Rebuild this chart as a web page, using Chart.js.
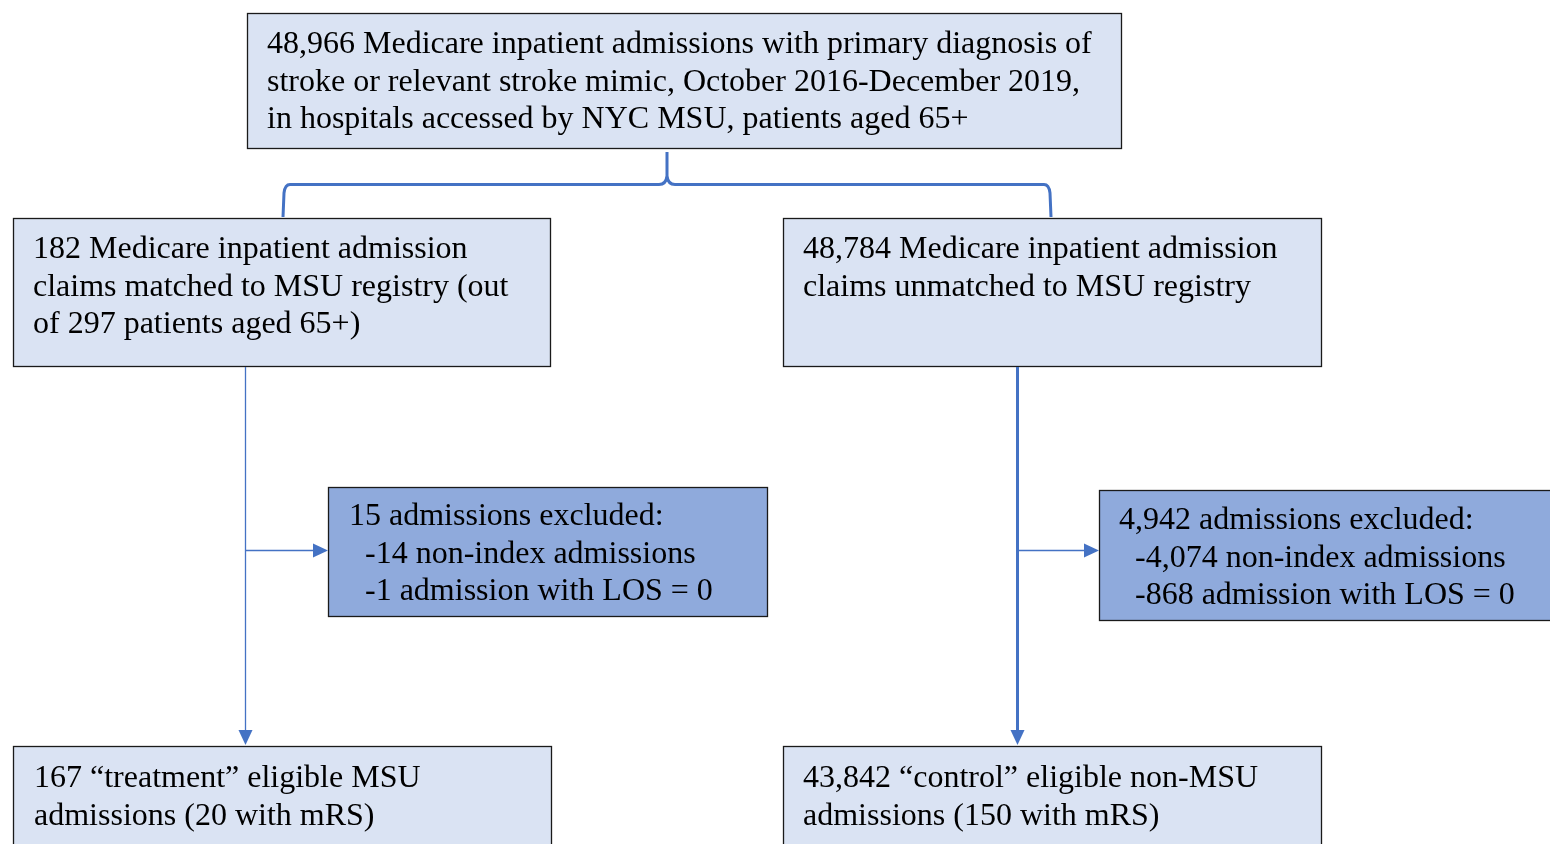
<!DOCTYPE html>
<html>
<head>
<meta charset="utf-8">
<script src="https://cdn.jsdelivr.net/npm/chart.js@4.4.0/dist/chart.umd.min.js"></script>
<style>
  html, body { margin: 0; padding: 0; background: #fff; }
  #wrap { width: 1550px; height: 844px; position: relative; }
</style>
</head>
<body>
<div id="wrap"><canvas id="flowChart"></canvas></div>
<script>
// counts shown in the flow diagram
const totalAdmissions = ['48,966'];
const matchedCounts = ['182', '297'];
const unmatchedCounts = ['48,784'];
const excludedLeft = ['15', '14', '1'];
const excludedRight = ['4,942', '4,074', '868'];
const finalCounts = ['167', '20', '43,842', '150'];

const boxTexts = [
    [totalAdmissions[0] + ' Medicare inpatient admissions with primary diagnosis of',
     'stroke or relevant stroke mimic, October 2016-December 2019,',
     'in hospitals accessed by NYC MSU, patients aged 65+'],
    [matchedCounts[0] + ' Medicare inpatient admission',
     'claims matched to MSU registry (out',
     'of ' + matchedCounts[1] + ' patients aged 65+)'],
    [unmatchedCounts[0] + ' Medicare inpatient admission',
     'claims unmatched to MSU registry'],
    [excludedLeft[0] + ' admissions excluded:',
     '  -' + excludedLeft[1] + ' non-index admissions',
     '  -' + excludedLeft[2] + ' admission with LOS = 0'],
    [excludedRight[0] + ' admissions excluded:',
     '  -' + excludedRight[1] + ' non-index admissions',
     '  -' + excludedRight[2] + ' admission with LOS = 0'],
    [finalCounts[0] + ' \u201Ctreatment\u201D eligible MSU',
     'admissions (' + finalCounts[1] + ' with mRS)'],
    [finalCounts[2] + ' \u201Ccontrol\u201D eligible non-MSU',
     'admissions (' + finalCounts[3] + ' with mRS)']
];

// layout in scale units (x0, y0, x1, y1, text x, first line y, fill)
const LIGHT = '#dae3f3', DARK = '#8faadc', BLUE = '#4472c4';
const boxLayout = [
    [247, 13, 1121, 148, 267, 45, LIGHT],
    [13, 218, 550, 366, 33, 250, LIGHT],
    [783, 218, 1321, 366, 803, 250, LIGHT],
    [328, 487, 767, 616, 349, 517, DARK],
    [1099, 490, 1552, 620, 1119, 521, DARK],
    [13, 746, 551, 850, 34, 779, LIGHT],
    [783, 746, 1321, 850, 803, 779, LIGHT]
];
const LINE_H = 37.3;

const flowPlugin = {
    id: 'flow',
    afterDraw(chart) {
        const ctx = chart.ctx;
        const xs = chart.scales.x, ys = chart.scales.y;
        const px = v => xs.getPixelForValue(v);
        const py = v => ys.getPixelForValue(v);
        ctx.save();

        // boxes
        boxLayout.forEach((b, i) => {
            const x0 = px(b[0]), y0 = py(b[1]), x1 = px(b[2]), y1 = py(b[3]);
            ctx.fillStyle = b[6];
            ctx.fillRect(x0, y0, x1 - x0, y1 - y0);
            ctx.strokeStyle = '#1a1a1a';
            ctx.lineWidth = 1.3;
            ctx.strokeRect(x0 + 0.5, y0 + 0.5, x1 - x0, y1 - y0);
            ctx.fillStyle = '#000';
            ctx.font = "32px 'Liberation Serif', 'Times New Roman', serif";
            ctx.textBaseline = 'middle';
            ctx.textAlign = 'left';
            boxTexts[i].forEach((t, k) => {
                ctx.fillText(t, px(b[4]), py(b[5] + k * LINE_H));
            });
        });

        // brace from top box to the two branches
        ctx.strokeStyle = BLUE;
        ctx.lineWidth = 3;
        ctx.lineJoin = 'round';
        ctx.beginPath();
        ctx.moveTo(px(283), py(217));
        ctx.lineTo(px(284), py(193));
        ctx.quadraticCurveTo(px(285), py(184.5), px(290), py(184.5));
        ctx.lineTo(px(659), py(184.5));
        ctx.quadraticCurveTo(px(666), py(184.5), px(667), py(176));
        ctx.lineTo(px(667), py(152));
        ctx.moveTo(px(667), py(176));
        ctx.quadraticCurveTo(px(668), py(184.5), px(675), py(184.5));
        ctx.lineTo(px(1044), py(184.5));
        ctx.quadraticCurveTo(px(1049), py(184.5), px(1050), py(193));
        ctx.lineTo(px(1051), py(217));
        ctx.stroke();

        const arrowDown = (x, yTop, yTip, w) => {
            ctx.lineWidth = w;
            ctx.beginPath();
            ctx.moveTo(px(x), py(yTop));
            ctx.lineTo(px(x), py(yTip - 12));
            ctx.stroke();
            ctx.beginPath();
            ctx.moveTo(px(x), py(yTip));
            ctx.lineTo(px(x - 7), py(yTip - 15));
            ctx.lineTo(px(x + 7), py(yTip - 15));
            ctx.closePath();
            ctx.fill();
        };
        const arrowRight = (xFrom, xTip, y) => {
            ctx.lineWidth = 1.3;
            ctx.beginPath();
            ctx.moveTo(px(xFrom), py(y));
            ctx.lineTo(px(xTip - 12), py(y));
            ctx.stroke();
            ctx.beginPath();
            ctx.moveTo(px(xTip), py(y));
            ctx.lineTo(px(xTip - 15), py(y - 7));
            ctx.lineTo(px(xTip - 15), py(y + 7));
            ctx.closePath();
            ctx.fill();
        };
        ctx.fillStyle = BLUE;
        arrowDown(245.5, 367, 745, 1.3);
        arrowDown(1017.5, 367, 745, 3);
        arrowRight(246, 328, 550.5);
        arrowRight(1019, 1099, 550.5);

        ctx.restore();
    }
};

new Chart(document.getElementById('flowChart'), {
    type: 'scatter',
    data: { datasets: [{ data: [], pointRadius: 0 }] },
    options: {
        responsive: true,
        maintainAspectRatio: false,
        animation: false,
        layout: { padding: 0 },
        plugins: { legend: { display: false }, tooltip: { enabled: false } },
        scales: {
            x: { type: 'linear', min: 0, max: 1550, display: false },
            y: { type: 'linear', min: 0, max: 844, reverse: true, display: false }
        }
    },
    plugins: [flowPlugin]
});
</script>
</body>
</html>
